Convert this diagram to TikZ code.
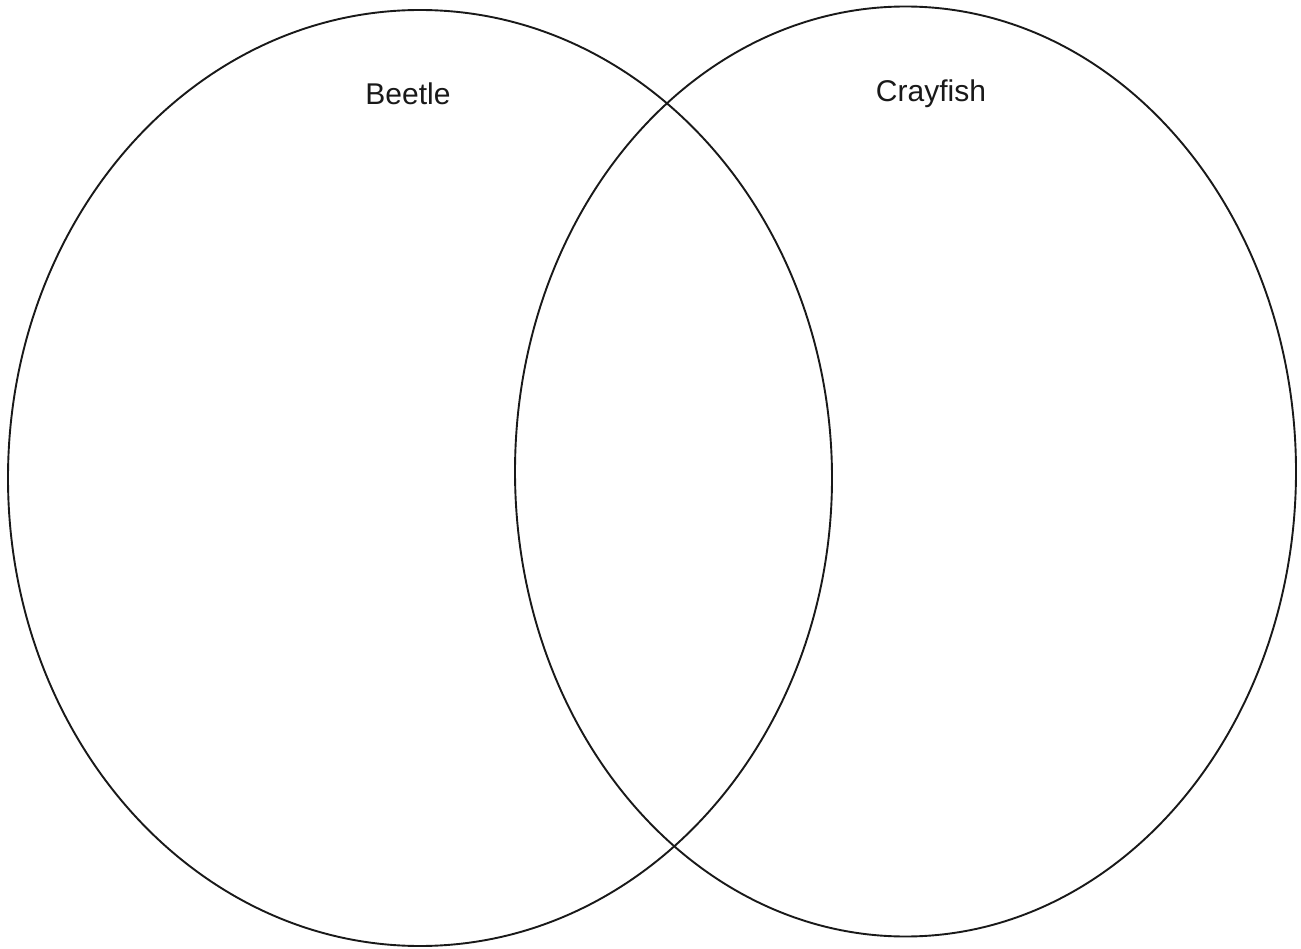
\documentclass[tikz,border=0pt]{standalone}
\usepackage{fontspec}
\setmainfont{Liberation Sans}
\begin{document}
\begin{tikzpicture}[x=1pt,y=-1pt,
  setcircle/.style={draw=black!90,line width=1.9pt},
  setlabel/.style={anchor=base,inner sep=0pt,font=\fontsize{30}{36}\selectfont,text=black!90}]
\useasboundingbox (0,0) rectangle (1301,949);
\fill[white] (0,0) rectangle (1301,949);
\draw[setcircle] (420,478) ellipse [x radius=412, y radius=468];
\draw[setcircle] (905.5,471.5) ellipse [x radius=390.5, y radius=465];
\node[setlabel] (beetle) at (408,105) {Beetle};
\node[setlabel] (crayfish) at (931,102) {Crayfish};
\end{tikzpicture}
\end{document}
